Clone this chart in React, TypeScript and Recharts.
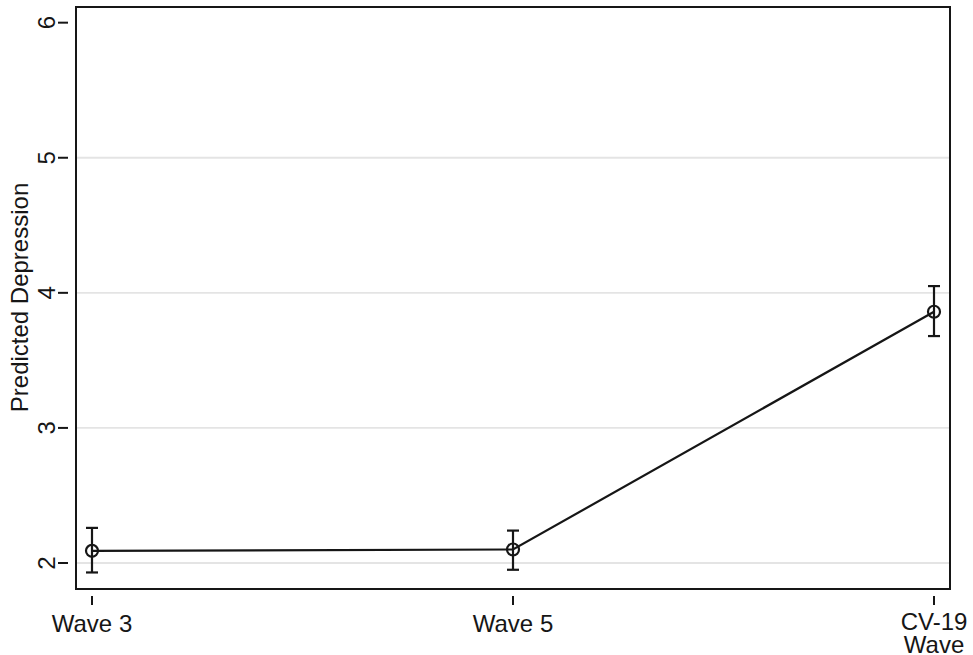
import { LineChart, Line, XAxis, YAxis, ErrorBar, ReferenceLine } from 'recharts'

const categories = ['Wave 3', 'Wave 5', 'CV-19\nWave']
const means = [2.09, 2.1, 3.86]
const lower = [1.93, 1.95, 3.68]
const upper = [2.26, 2.24, 4.05]
const yTicks = [2, 3, 4, 5, 6]
const gridValues = [2, 3, 4, 5]

const INK = '#161616'
const FONT = '"Liberation Sans", Arial, sans-serif'

const data = categories.map((wave, i) => ({
  wave,
  mean: means[i],
  err: [means[i] - lower[i], upper[i] - means[i]],
}))

function XTick({ x, y, payload }: any) {
  const lines = String(payload.value).split('\n')
  // two-line labels sit a touch higher so the second line stays inside the picture
  const base = lines.length > 1 ? y + 34 : y + 36
  return (
    <g>
      <line x1={x} x2={x} y1={y} y2={y + 9} stroke={INK} strokeWidth={2} />
      <text x={x} y={base} textAnchor="middle" fontSize={24} fontFamily={FONT} fill={INK}>
        {lines.map((l, i) => (
          <tspan key={i} x={x} dy={i === 0 ? 0 : 23}>{l}</tspan>
        ))}
      </text>
    </g>
  )
}

function YTick({ x, y, payload }: any) {
  // labels read bottom-to-top like the original
  return (
    <g>
      <line x1={x - 10} x2={x} y1={y} y2={y} stroke={INK} strokeWidth={2} />
      <text
        x={55}
        y={y}
        transform={`rotate(-90, 55, ${y})`}
        textAnchor="middle"
        fontSize={24}
        fontFamily={FONT}
        fill={INK}
      >
        {payload.value}
      </text>
    </g>
  )
}

function HollowDot({ cx, cy }: any) {
  return <circle cx={cx} cy={cy} r={6} fill="none" stroke={INK} strokeWidth={2.2} />
}

export default function App() {
  return (
    <div style={{ position: 'relative', width: 973, height: 655, background: '#fff' }}>
      <style>{'body{margin:0}'}</style>
      <LineChart width={973} height={655} data={data} margin={{ top: 7, right: 24, left: 0, bottom: 0 }}>
        {gridValues.map(v => (
          <ReferenceLine key={v} y={v} stroke="#e4e4e4" strokeWidth={1.8} />
        ))}
        <XAxis
          dataKey="wave"
          scale="point"
          padding={{ left: 16, right: 15 }}
          height={67}
          axisLine={false}
          tickLine={false}
          tick={<XTick />}
          interval={0}
        />
        <YAxis
          type="number"
          domain={[1.815, 6.116]}
          ticks={yTicks}
          width={76}
          axisLine={false}
          tickLine={false}
          tick={<YTick />}
          label={{
            content: () => (
              <text
                x={28}
                y={297.5}
                transform="rotate(-90, 28, 297.5)"
                textAnchor="middle"
                fontSize={24}
                fontFamily={FONT}
                fill={INK}
              >
                Predicted Depression
              </text>
            ),
          }}
        />
        <Line
          type="linear"
          dataKey="mean"
          stroke={INK}
          strokeWidth={2.2}
          dot={<HollowDot />}
          activeDot={false}
          isAnimationActive={false}
        >
          <ErrorBar dataKey="err" direction="y" width={6} stroke={INK} strokeWidth={2.2} isAnimationActive={false} />
        </Line>
      </LineChart>
      {/* plot frame drawn as a box so it sits on the real plot edges, not the padded category range */}
      <div
        style={{
          position: 'absolute',
          left: 75,
          top: 6,
          width: 872,
          height: 580,
          border: `2.5px solid ${INK}`,
          pointerEvents: 'none',
        }}
      />
    </div>
  )
}
